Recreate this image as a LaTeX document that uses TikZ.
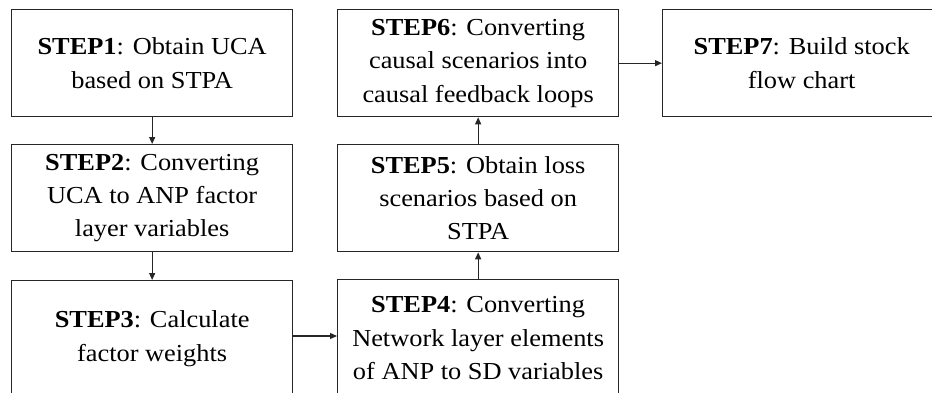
\documentclass[tikz,border=0pt]{standalone}
\usepackage{fontspec}
\setmainfont[FakeStretch=1.08]{Liberation Serif}
\usetikzlibrary{arrows.meta}
\begin{document}
\begin{tikzpicture}[x=1bp,y=-1bp,
  stepbox/.style={draw=black!85, line width=1.3bp, anchor=north west, align=center,
    minimum width=281bp, minimum height=107bp, inner sep=0pt,
    font=\fontsize{24.5}{33.5}\selectfont},
  conn/.style={draw=black!85, line width=1.2bp, -{Triangle[length=7bp,width=6bp]}}]
\useasboundingbox (0,0) rectangle (932,392);
\clip (0,0) rectangle (932,392);
\fill[white] (0,0) rectangle (932,392);
\node[stepbox] (s1) at (11,9) {\textbf{STEP1}: Obtain UCA\\based on STPA};
\node[stepbox] (s2) at (11,144) {\textbf{STEP2}: Converting\\UCA to ANP factor\\layer variables};
\node[stepbox, minimum height=116bp] (s3) at (11,280) {\textbf{STEP3}: Calculate\\factor weights};
\node[stepbox, minimum height=117bp] (s4) at (337,279) {\textbf{STEP4}: Converting\\Network layer elements\\of ANP to SD variables};
\node[stepbox] (s5) at (337,144) {\textbf{STEP5}: Obtain loss\\scenarios based on\\STPA};
\node[stepbox] (s6) at (337,9) {\textbf{STEP6}: Converting\\causal scenarios into\\causal feedback loops};
\node[stepbox, minimum width=278bp] (s7) at (662,9) {\textbf{STEP7}: Build stock\\flow chart};
\draw[conn] (s1) -- (s2);
\draw[conn] (s2) -- (s3);
\draw[conn] (s3.east |- 0,336) -- (s4.west |- 0,336);
\draw[conn] (s4) -- (s5);
\draw[conn] (s5) -- (s6);
\draw[conn] (s6) -- (s7);
\end{tikzpicture}
\end{document}
